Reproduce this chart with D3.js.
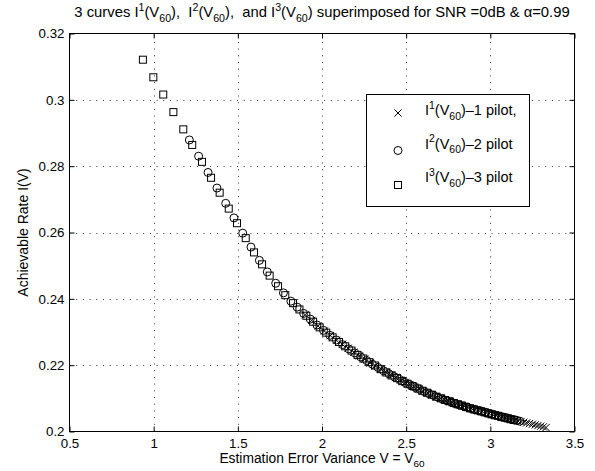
<!DOCTYPE html>
<html>
<head>
<meta charset="utf-8">
<script src="https://cdn.jsdelivr.net/npm/d3@7"></script>
<style>
  html, body { margin: 0; padding: 0; background: #fff; }
  svg { display: block; font-family: "Liberation Sans", Arial, Helvetica, sans-serif; }
</style>
</head>
<body>
<div id="chart"></div>
<script>
// axis ticks
const xTicks = [0.5, 1, 1.5, 2, 2.5, 3, 3.5];
const xTickLabels = ["0.5", "1", "1.5", "2", "2.5", "3", "3.5"];
const yTicks = [0.2, 0.22, 0.24, 0.26, 0.28, 0.3, 0.32];
const yTickLabels = ["0.2", "0.22", "0.24", "0.26", "0.28", "0.3", "0.32"];

// I^1(V60) - 1 pilot (x markers)
const pilot1V = [1.900, 1.939, 1.977,
  2.014, 2.050, 2.086, 2.121, 2.155, 2.189, 2.222, 2.254, 2.286, 2.317,
  2.348, 2.378, 2.408, 2.437, 2.466, 2.494, 2.522, 2.549, 2.576, 2.602,
  2.628, 2.654, 2.679, 2.704, 2.728, 2.752, 2.776, 2.799, 2.822, 2.845,
  2.867, 2.889, 2.911, 2.932, 2.953, 2.974, 2.994, 3.014, 3.034, 3.053,
  3.072, 3.091, 3.110, 3.128, 3.146, 3.164, 3.182, 3.199, 3.216, 3.233,
  3.250, 3.267, 3.283, 3.299, 3.315, 3.331];
const pilot1I = [0.2352, 0.2335, 0.2318,
  0.2303, 0.2289, 0.2275, 0.2263, 0.2251, 0.2239, 0.2228, 0.2218, 0.2207, 0.2198,
  0.2189, 0.2180, 0.2171, 0.2163, 0.2155, 0.2148, 0.2141, 0.2134, 0.2128, 0.2122,
  0.2116, 0.2111, 0.2105, 0.2100, 0.2096, 0.2092, 0.2087, 0.2083, 0.2079, 0.2076,
  0.2072, 0.2069, 0.2065, 0.2063, 0.2060, 0.2057, 0.2054, 0.2051, 0.2049, 0.2046,
  0.2044, 0.2041, 0.2039, 0.2037, 0.2034, 0.2032, 0.2030, 0.2028, 0.2026, 0.2024,
  0.2022, 0.2020, 0.2018, 0.2016, 0.2014, 0.2012];

// I^2(V60) - 2 pilot (circles)
const pilot2V = [1.212, 1.267, 1.323, 1.376, 1.428, 1.477, 1.529, 1.578, 1.628, 1.675,
  1.725, 1.771, 1.815, 1.852, 1.891, 1.930, 1.970, 2.009, 2.047, 2.085,
  2.122, 2.159, 2.195, 2.230, 2.265, 2.299, 2.333, 2.366, 2.398, 2.430,
  2.461, 2.492, 2.522, 2.551, 2.580, 2.608, 2.636, 2.663, 2.690, 2.716,
  2.742, 2.767, 2.792, 2.816, 2.840, 2.863, 2.886, 2.908, 2.930, 2.951,
  2.972, 2.992, 3.012, 3.031, 3.050, 3.069, 3.087, 3.105, 3.123, 3.141,
  3.158, 3.175];
const pilot2I = [0.2879, 0.2830, 0.2781, 0.2734, 0.2688, 0.2644, 0.2598, 0.2556, 0.2516, 0.2481,
  0.2447, 0.2418, 0.2393, 0.2375, 0.2356, 0.2339, 0.2321, 0.2305, 0.2290, 0.2276,
  0.2262, 0.2249, 0.2237, 0.2225, 0.2214, 0.2203, 0.2193, 0.2183, 0.2174, 0.2165,
  0.2157, 0.2148, 0.2141, 0.2134, 0.2127, 0.2120, 0.2114, 0.2109, 0.2103, 0.2098,
  0.2093, 0.2089, 0.2084, 0.2080, 0.2077, 0.2073, 0.2069, 0.2066, 0.2063, 0.2060,
  0.2057, 0.2054, 0.2051, 0.2049, 0.2046, 0.2044, 0.2042, 0.2039, 0.2037, 0.2035,
  0.2033, 0.2031];

// I^3(V60) - 3 pilot (squares)
const pilot3V = [0.936, 0.998, 1.057, 1.117, 1.176, 1.229, 1.287, 1.341, 1.392, 1.446,
  1.495, 1.547, 1.596, 1.644, 1.689, 1.739, 1.782, 1.828, 1.866, 1.907,
  1.947, 1.986, 2.025, 2.063, 2.101, 2.138, 2.175, 2.211, 2.246, 2.281,
  2.315, 2.349, 2.382, 2.414, 2.446, 2.477, 2.508, 2.538, 2.567, 2.596,
  2.624, 2.652, 2.679, 2.706, 2.732, 2.758, 2.783, 2.808, 2.832, 2.856,
  2.879, 2.902, 2.924, 2.946, 2.967, 2.988, 3.008, 3.028, 3.047, 3.066,
  3.085, 3.103, 3.121, 3.139];
const pilot3I = [0.3121, 0.3068, 0.3016, 0.2963, 0.2911, 0.2864, 0.2813, 0.2765, 0.2720, 0.2672,
  0.2628, 0.2583, 0.2540, 0.2504, 0.2470, 0.2438, 0.2411, 0.2387, 0.2368, 0.2349,
  0.2331, 0.2314, 0.2298, 0.2284, 0.2270, 0.2257, 0.2244, 0.2231, 0.2220, 0.2209,
  0.2199, 0.2188, 0.2178, 0.2169, 0.2161, 0.2152, 0.2144, 0.2137, 0.2130, 0.2123,
  0.2117, 0.2111, 0.2105, 0.2100, 0.2095, 0.2091, 0.2086, 0.2082, 0.2078, 0.2074,
  0.2070, 0.2067, 0.2064, 0.2061, 0.2058, 0.2055, 0.2052, 0.2049, 0.2047, 0.2044,
  0.2042, 0.2040, 0.2037, 0.2035];

const legendPilots = ["\u20131 pilot,", "\u20132 pilot", "\u20133 pilot"];
const legendSups = ["1", "2", "3"];

const W = 595, H = 471;
const plot = { left: 69.5, right: 574.5, top: 33.5, bottom: 431.5 };

const svg = d3.select("#chart").append("svg")
    .attr("width", W)
    .attr("height", H)
    .style("background", "#fff");

const x = d3.scaleLinear().domain([0.5, 3.5]).range([plot.left, plot.right]);
const y = d3.scaleLinear().domain([0.2, 0.32]).range([plot.bottom, plot.top]);

// text with MATLAB-ish super/subscripts: parts = [[text, "sup"|"sub"|null], ...]
function richText(textSel, parts, size) {
    let shift = 0;
    parts.forEach(([s, kind]) => {
        const target = kind === "sup" ? -0.42 * size : kind === "sub" ? 0.32 * size : 0;
        textSel.append("tspan")
            .attr("dy", target - shift)
            .style("font-size", (kind ? size * 0.72 : size) + "px")
            .text(s);
        shift = target;
    });
}

// grid (dotted)
const grid = svg.append("g").attr("class", "grid")
    .attr("stroke", "#000")
    .attr("stroke-width", 0.8)
    .attr("stroke-dasharray", "1,5.7");
grid.selectAll(".gx").data(xTicks.slice(1, -1)).enter().append("line")
    .attr("x1", d => Math.round(x(d)) + 0.5).attr("x2", d => Math.round(x(d)) + 0.5)
    .attr("y1", plot.bottom).attr("y2", plot.top);
grid.selectAll(".gy").data(yTicks.slice(1, -1)).enter().append("line")
    .attr("y1", d => Math.round(y(d)) + 0.5).attr("y2", d => Math.round(y(d)) + 0.5)
    .attr("x1", plot.left).attr("x2", plot.right);

// axes, ticks pointing inward
const tickLen = 5;
function styleAxis(g) {
    g.select(".domain").remove();
    g.selectAll(".tick line").attr("stroke", "#000");
    g.selectAll("text").attr("fill", "#000").style("font-size", "13.3px")
        .style("font-family", "'Liberation Sans', Arial, Helvetica, sans-serif");
}
svg.append("g")
    .attr("transform", `translate(0,${plot.bottom})`)
    .call(d3.axisBottom(x).tickValues(xTicks).tickFormat((d, i) => xTickLabels[i])
        .tickSizeInner(-tickLen).tickSizeOuter(0).tickPadding(7))
    .call(styleAxis);
svg.append("g")
    .attr("transform", `translate(0,${plot.top})`)
    .call(d3.axisTop(x).tickValues(xTicks).tickFormat("")
        .tickSizeInner(-tickLen).tickSizeOuter(0))
    .call(styleAxis);
svg.append("g")
    .attr("transform", `translate(${plot.left},0)`)
    .call(d3.axisLeft(y).tickValues(yTicks).tickFormat((d, i) => yTickLabels[i])
        .tickSizeInner(-tickLen).tickSizeOuter(0).tickPadding(5))
    .call(styleAxis);
svg.append("g")
    .attr("transform", `translate(${plot.right},0)`)
    .call(d3.axisRight(y).tickValues(yTicks).tickFormat("")
        .tickSizeInner(-tickLen).tickSizeOuter(0))
    .call(styleAxis);

svg.append("rect")
    .attr("x", plot.left).attr("y", plot.top)
    .attr("width", plot.right - plot.left).attr("height", plot.bottom - plot.top)
    .attr("fill", "none").attr("stroke", "#000").attr("stroke-width", 1);

// markers
const symX = d3.symbol().type(d3.symbolX).size(36);
function drawSeries(vs, is, kind) {
    const g = svg.append("g").attr("fill", "none").attr("stroke", "#000").attr("stroke-width", 1);
    const pts = vs.map((v, i) => [v, is[i]]);
    if (kind === "x") {
        g.selectAll("path").data(pts).enter().append("path")
            .attr("transform", d => `translate(${x(d[0])},${y(d[1])})`)
            .attr("d", symX);
    } else if (kind === "o") {
        g.selectAll("circle").data(pts).enter().append("circle")
            .attr("cx", d => x(d[0])).attr("cy", d => y(d[1])).attr("r", 4);
    } else {
        g.selectAll("rect").data(pts).enter().append("rect")
            .attr("x", d => x(d[0]) - 3.5).attr("y", d => y(d[1]) - 3.5)
            .attr("width", 7).attr("height", 7);
    }
}
drawSeries(pilot1V, pilot1I, "x");
drawSeries(pilot2V, pilot2I, "o");
drawSeries(pilot3V, pilot3I, "s");

// title
const title = svg.append("text")
    .attr("x", (plot.left + plot.right) / 2).attr("y", 17)
    .attr("text-anchor", "middle")
    .style("white-space", "pre");
richText(title, [
    ["3 curves I", null], ["1", "sup"], ["(V", null], ["60", "sub"],
    ["),  I", null], ["2", "sup"], ["(V", null], ["60", "sub"],
    ["),  and I", null], ["3", "sup"], ["(V", null], ["60", "sub"],
    [") superimposed for SNR =0dB & \u03b1=0.99", null]
], 14.8);

// x label
const xl = svg.append("text")
    .attr("x", (plot.left + plot.right) / 2).attr("y", 463)
    .attr("text-anchor", "middle");
richText(xl, [["Estimation Error Variance V = V", null], ["60", "sub"]], 13.8);

// y label
svg.append("text")
    .attr("transform", `translate(28,${(plot.top + plot.bottom) / 2}) rotate(-90)`)
    .attr("text-anchor", "middle")
    .style("font-size", "14px")
    .text("Achievable Rate I(V)");

// legend
const legend = svg.append("g");
legend.append("rect")
    .attr("x", 366.5).attr("y", 94.5).attr("width", 163).attr("height", 112)
    .attr("fill", "#fff").attr("stroke", "#000").attr("stroke-width", 1);
const rowMarkY = [113, 150.5, 185];
const rowTextY = [115, 148.5, 182];
legend.append("path")
    .attr("transform", `translate(398,${rowMarkY[0]})`)
    .attr("d", symX).attr("fill", "none").attr("stroke", "#000");
legend.append("circle")
    .attr("cx", 398).attr("cy", rowMarkY[1]).attr("r", 4)
    .attr("fill", "none").attr("stroke", "#000");
legend.append("rect")
    .attr("x", 398 - 3.5).attr("y", rowMarkY[2] - 3.5).attr("width", 7).attr("height", 7)
    .attr("fill", "none").attr("stroke", "#000");
legendPilots.forEach((lab, i) => {
    const t = legend.append("text").attr("x", 425).attr("y", rowTextY[i]);
    richText(t, [["I", null], [legendSups[i], "sup"], ["(V", null], ["60", "sub"], [")" + lab, null]], 14.5);
});
</script>
</body>
</html>
